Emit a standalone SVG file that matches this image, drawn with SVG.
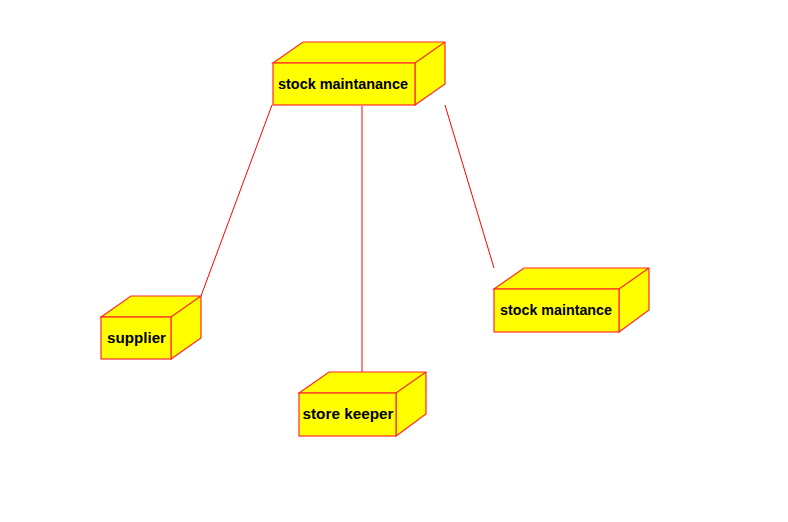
<svg xmlns="http://www.w3.org/2000/svg" width="788" height="522" viewBox="0 0 788 522">
<style>
.box{fill:#ffff00;stroke:#ff2a2a;stroke-width:1.2;stroke-linejoin:miter}
.lbl{font-family:"Liberation Sans",Arial,sans-serif;font-weight:bold;font-size:14.5px;fill:#000}
.conn{stroke:#ff0000;stroke-width:1;fill:none}
</style>
<rect width="788" height="522" fill="#fff"/>
<g id="connectors">
<line class="conn" x1="272" y1="105" x2="201" y2="296"/>
<line class="conn" x1="362" y1="106" x2="362" y2="372"/>
<line class="conn" x1="445" y1="105" x2="494" y2="268"/>
</g>
<g id="node-stock-maintanance">
<path class="box" d="M273,63 L303,42 L445,42 L445,84 L415,105 L415,63 Z M415,63 L445,42"/>
<rect class="box" x="273" y="63" width="142" height="42"/>
<text class="lbl" x="278" y="89" textLength="130" lengthAdjust="spacingAndGlyphs">stock maintanance</text>
</g>
<g id="node-supplier">
<path class="box" d="M101,317 L131,296 L201,296 L201,338 L171,359 L171,317 Z M171,317 L201,296"/>
<rect class="box" x="101" y="317" width="70" height="42"/>
<text class="lbl" x="107" y="343" textLength="59" lengthAdjust="spacingAndGlyphs">supplier</text>
</g>
<g id="node-store-keeper">
<path class="box" d="M299,393 L329,372 L426,372 L426,414 L396,436 L396,393 Z M396,393 L426,372"/>
<rect class="box" x="299" y="393" width="97" height="43"/>
<text class="lbl" x="302.5" y="419" textLength="91" lengthAdjust="spacingAndGlyphs">store keeper</text>
</g>
<g id="node-stock-maintance">
<path class="box" d="M494,289 L524,268 L649,268 L649,310 L619,332 L619,289 Z M619,289 L649,268"/>
<rect class="box" x="494" y="289" width="125" height="43"/>
<text class="lbl" x="500" y="315" textLength="112" lengthAdjust="spacingAndGlyphs">stock maintance</text>
</g>
</svg>
